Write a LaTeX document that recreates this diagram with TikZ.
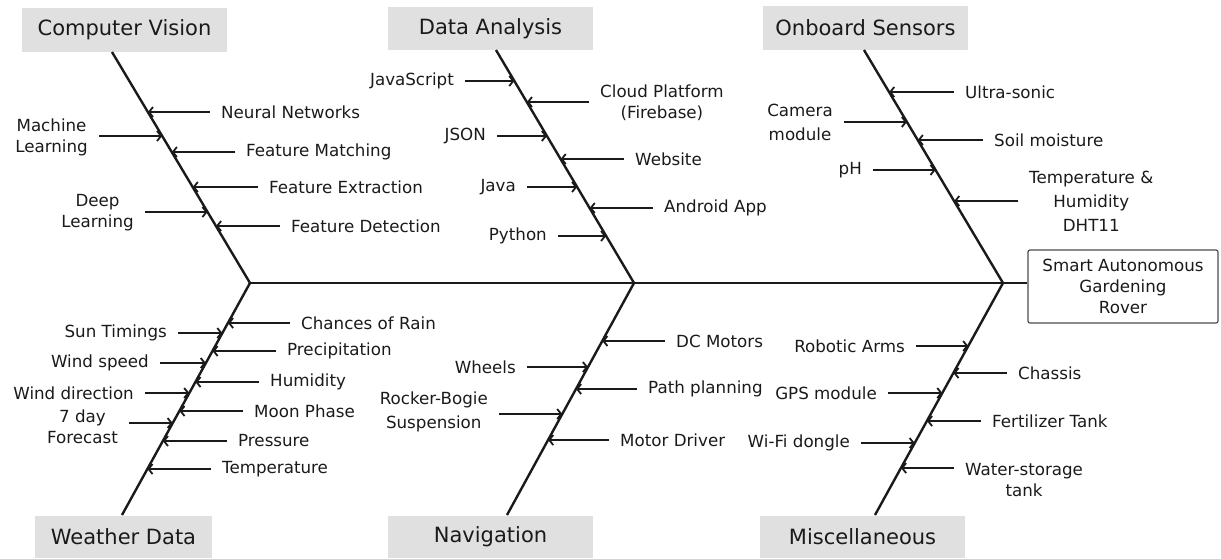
\documentclass[tikz,border=0pt]{standalone}
\usepackage{fontspec}
\setmainfont{DejaVu Sans}
\usetikzlibrary{arrows.meta,calc}
\definecolor{ink}{HTML}{1A1A1A}
\definecolor{titlefill}{HTML}{E0E0E0}
\newcommand\lblfont{\fontsize{16.7}{21}\selectfont}
\newcommand\ttlfont{\fontsize{21}{25}\selectfont}
\tikzset{
  lbl/.style={inner xsep=11pt, inner ysep=1pt, align=center, font=\lblfont, text=ink},
  arr/.style={line width=1.8pt, draw=ink, -{Straight Barb[length=4pt,width=10pt]}},
  bone/.style={line width=2.4pt, draw=ink},
  spine/.style={line width=2pt, draw=ink},
  ttl/.style={fill=titlefill, inner sep=0pt, font=\ttlfont, text=ink, minimum height=44pt},
  goalbox/.style={draw=black!70, line width=1.2pt, rounded corners=2pt, align=center,
    font=\lblfont, text=ink, minimum width=190pt, minimum height=73pt, inner sep=0pt}
}
% right-side cause: name, bone prefix, arrow y, arrow start x, label y, text
\newcommand\causeR[6]{%
  \coordinate (#1-t) at (intersection cs: first line={(#2A)--(#2B)}, second line={(0,#3)--(10,#3)});
  \node[lbl, anchor=west] (#1) at (#4,#5) {#6};
  \draw[arr] (#1.west |- #1-t) -- (#1-t);
}
\newcommand\causeL[6]{%
  \coordinate (#1-t) at (intersection cs: first line={(#2A)--(#2B)}, second line={(0,#3)--(10,#3)});
  \node[lbl, anchor=east] (#1) at (#4,#5) {#6};
  \draw[arr] (#1.east |- #1-t) -- (#1-t);
}
\begin{document}
\begin{tikzpicture}[x=1pt, y=-1pt]
\useasboundingbox (0,0) rectangle (1221,558);

% category titles
\node[ttl, minimum width=205pt] (cv) at (124.5,30) {Computer Vision};
\node[ttl, minimum width=205pt, minimum height=43pt] (da) at (490.5,28.5) {Data Analysis};
\node[ttl, minimum width=205pt] (os) at (865.5,28) {Onboard Sensors};
\node[ttl, minimum width=177pt, minimum height=42pt] (wd) at (123.5,537) {Weather Data};
\node[ttl, minimum width=205pt, minimum height=42pt] (nv) at (490.5,537) {Navigation};
\node[ttl, minimum width=205pt, minimum height=42pt] (ms) at (862.5,537) {Miscellaneous};

% effect box
\node[goalbox] (goal) at (1123,286.5) {Smart Autonomous\\Gardening\\Rover};

% bone end points
\coordinate (cvA) at (112,52);  \coordinate (cvB) at (250,283);
\coordinate (daA) at (496,50);  \coordinate (daB) at (634,283);
\coordinate (osA) at (864,50);  \coordinate (osB) at (1003,283);
\coordinate (wdA) at (250,283); \coordinate (wdB) at (122,515);
\coordinate (nvA) at (634,283); \coordinate (nvB) at (507,515);
\coordinate (msA) at (1003,283); \coordinate (msB) at (875,515);

% spine and bones
\draw[spine] (cvB) -- (cvB -| goal.west);
\draw[bone] (cvA) -- (cvB);
\draw[bone] (daA) -- (daB);
\draw[bone] (osA) -- (osB);
\draw[bone] (wdA) -- (wdB);
\draw[bone] (nvA) -- (nvB);
\draw[bone] (msA) -- (msB);

% Computer Vision
\causeR{nn}{cv}{112}{210}{112}{Neural Networks}
\causeR{fm}{cv}{152}{235}{152}{Feature Matching}
\causeR{fe}{cv}{187}{258}{187}{Feature Extraction}
\causeR{fd}{cv}{226}{280}{226}{Feature Detection}
\causeL{ml}{cv}{136}{99}{137}{Machine\\Learning}
\causeL{dl}{cv}{212}{145}{213}{Deep\\Learning}

% Data Analysis
\causeR{cp}{da}{102}{589}{103}{Cloud Platform\\(Firebase)}
\causeR{web}{da}{159}{624}{159}{Website}
\causeR{aa}{da}{208}{653}{208}{Android App}
\causeL{js}{da}{81}{465}{81}{JavaScript}
\causeL{json}{da}{136}{497}{136}{JSON}
\causeL{java}{da}{187}{527}{187}{Java}
\causeL{py}{da}{236}{558}{236}{Python}

% Onboard Sensors
\causeR{us}{os}{92}{954}{92}{Ultra-sonic}
\causeR{sm}{os}{140}{983}{140}{Soil moisture}
\causeR{th}{os}{201}{1018}{201}{Temperature \&\\[3pt]Humidity\\[3pt]DHT11}
\causeL{cam}{os}{122}{844}{122}{Camera\\[3pt]module}
\causeL{ph}{os}{170}{873}{170}{pH}

% Weather Data
\causeR{cr}{wd}{323}{290}{323}{Chances of Rain}
\causeR{pr}{wd}{351}{276}{351}{Precipitation}
\causeR{hu}{wd}{382}{259}{382}{Humidity}
\causeR{mp}{wd}{411}{243}{411}{Moon Phase}
\causeR{pe}{wd}{441}{227}{441}{Pressure}
\causeR{te}{wd}{469}{211}{469}{Temperature}
\causeL{st}{wd}{333}{178}{333}{Sun Timings}
\causeL{wsp}{wd}{363}{160}{363}{Wind speed}
\causeL{wdir}{wd}{393}{145}{393}{Wind direction}
\causeL{fc}{wd}{423}{129}{427}{7 day\\Forecast}

% Navigation
\causeR{dc}{nv}{341}{665}{341}{DC Motors}
\causeR{pp}{nv}{389}{637}{389}{Path planning}
\causeR{md}{nv}{440}{609}{440}{Motor Driver}
\causeL{wh}{nv}{367}{527}{367}{Wheels}
\causeL{rb}{nv}{414}{499}{412}{Rocker-Bogie\\[3pt]Suspension}

% Miscellaneous
\causeR{ch}{ms}{373}{1007}{373}{Chassis}
\causeR{ft}{ms}{421}{981}{421}{Fertilizer Tank}
\causeR{wst}{ms}{468}{954}{480}{Water-storage\\tank}
\causeL{ra}{ms}{346}{916}{346}{Robotic Arms}
\causeL{gps}{ms}{393}{888}{393}{GPS module}
\causeL{wifi}{ms}{443}{861}{443}{Wi-Fi dongle}
\end{tikzpicture}
\end{document}
